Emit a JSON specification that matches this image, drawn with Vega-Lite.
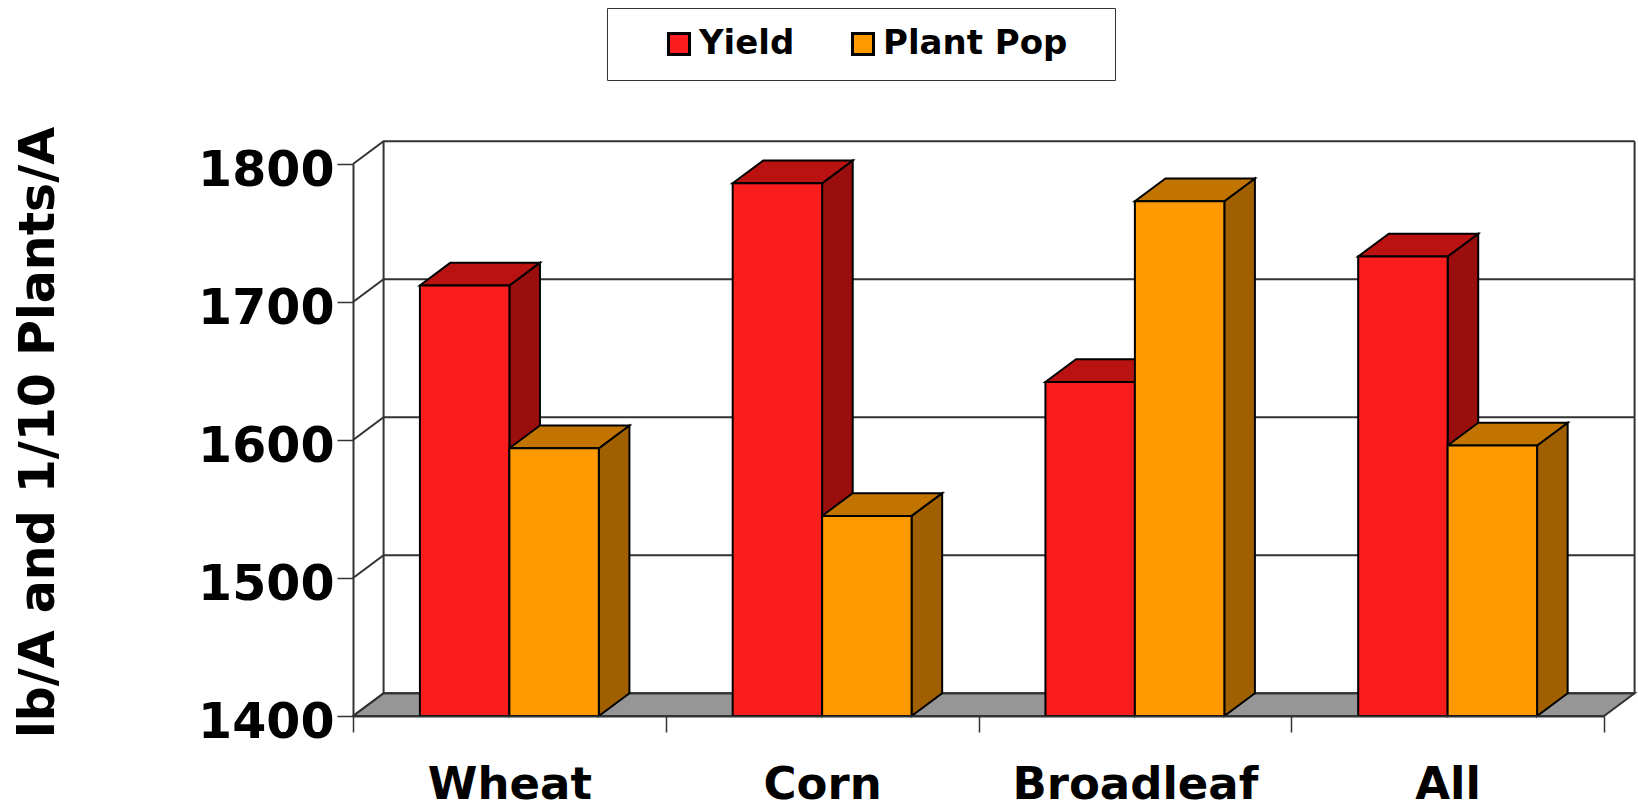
{
"$schema":"https://vega.github.io/schema/vega-lite/v6.json",
"autosize":{"type":"none"},
"width":1251,"height":552,
"padding":{"left":353,"top":164,"right":34,"bottom":86},
"background":"white",
"config":{"view":{"stroke":null},"font":"DejaVu Sans","axis":{"grid":false,"domainColor":"#333333","tickColor":"#333333","domainWidth":2,"tickWidth":1.5,"labelFont":"DejaVu Sans","labelFontWeight":"bold","labelColor":"black","titleFont":"DejaVu Sans","titleFontWeight":"bold","titleColor":"black"}},
"data":{"values":[
{"category":"Wheat","series":"Yield","value":1712},
{"category":"Wheat","series":"Plant Pop","value":1594},
{"category":"Corn","series":"Yield","value":1786},
{"category":"Corn","series":"Plant Pop","value":1545},
{"category":"Broadleaf","series":"Yield","value":1642},
{"category":"Broadleaf","series":"Plant Pop","value":1773},
{"category":"All","series":"Yield","value":1733},
{"category":"All","series":"Plant Pop","value":1596}
]},
"transform":[
{"calculate":"indexof(['Wheat','Corn','Broadleaf','All'],datum.category)+(datum.series==='Yield'?0.214:0.5)","as":"x0"},
{"calculate":"datum.x0+0.286","as":"x1"},
{"calculate":"datum.category+datum.series","as":"bar"}
],
"resolve":{"scale":{"fill":"independent"}},
"layer":[
{"data":{"values":[{"edge":0},{"edge":1}]},
 "transform":[{"calculate":"datum.edge*0.0978","as":"fx0"},{"calculate":"4+datum.edge*0.0978","as":"fx1"},{"calculate":"1400+datum.edge*16.5","as":"fy"}],
 "mark":{"type":"area","orient":"horizontal","fill":"#969696","stroke":"#333333","strokeWidth":2},
 "encoding":{
  "x":{"field":"fx0","type":"quantitative","scale":{"domain":[0,4],"nice":false,"zero":false},
   "axis":{"title":null,"values":[0,0.5,1,1.5,2,2.5,3,3.5,4],"labelOverlap":false,"labelFontSize":45,"labelPadding":46,"labelBaseline":"top","labelLimit":600,"zindex":1,
    "labelExpr":"datum.value%1===0?'':['Wheat','Corn','Broadleaf','All'][floor(datum.value)]",
    "tickSize":{"condition":{"test":"datum.value%1===0","value":16},"value":0}}},
  "x2":{"field":"fx1"},
  "y":{"field":"fy","type":"quantitative","scale":{"domain":[1400,1800],"nice":false,"zero":false},
   "axis":{"title":"lb/A and 1/10 Plants/A","titleFontSize":49,"titleX":-300,"titleY":268,"titleAngle":-90,"titleBaseline":"alphabetic","values":[1400,1500,1600,1700,1800],"format":"d","labelFontSize":49,"labelOffset":6,"tickSize":16,"labelPadding":3,"labelOverlap":false,"zindex":1}}
 }},
{"data":{"values":[{"tick":1400},{"tick":1500},{"tick":1600},{"tick":1700},{"tick":1800}]},
 "transform":[{"calculate":"[0,1,2]","as":"p"},{"flatten":["p"]},
  {"calculate":"datum.p===0?0:(datum.p===1?0.0978:4.0978)","as":"gx"},
  {"calculate":"datum.p===0?datum.tick:datum.tick+16.5","as":"gy"}],
 "mark":{"type":"line","stroke":"#333333","strokeWidth":2},
 "encoding":{
  "x":{"field":"gx","type":"quantitative","scale":{"domain":[0,4],"nice":false,"zero":false}},
  "y":{"field":"gy","type":"quantitative","scale":{"domain":[1400,1800],"nice":false,"zero":false}},
  "detail":{"field":"tick"}
 }},
{"data":{"values":[{"wall":0.0978},{"wall":4.0978}]},
 "transform":[{"calculate":"1416.5","as":"w0"},{"calculate":"1816.5","as":"w1"}],
 "mark":{"type":"rule","stroke":"#333333","strokeWidth":2},
 "encoding":{
  "x":{"field":"wall","type":"quantitative","scale":{"domain":[0,4],"nice":false,"zero":false}},
  "y":{"field":"w0","type":"quantitative","scale":{"domain":[1400,1800],"nice":false,"zero":false}},
  "y2":{"field":"w1"}
 }},
{"transform":[{"calculate":"[0,1]","as":"t"},{"flatten":["t"]},
  {"calculate":"datum.x1+datum.t*0.0978","as":"sx"},
  {"calculate":"datum.value+datum.t*16.5","as":"sy"},
  {"calculate":"1400+datum.t*16.5","as":"sy2"}],
 "mark":{"type":"area","orient":"vertical","stroke":"black","strokeWidth":2},
 "encoding":{
  "x":{"field":"sx","type":"quantitative","scale":{"domain":[0,4],"nice":false,"zero":false}},
  "y":{"field":"sy","type":"quantitative","scale":{"domain":[1400,1800],"nice":false,"zero":false}},
  "y2":{"field":"sy2"},
  "detail":{"field":"bar"},
  "fill":{"field":"series","type":"nominal","legend":null,"scale":{"domain":["Yield","Plant Pop"],"range":["#9A0F0E","#A06000"]}}
 }},
{"transform":[{"calculate":"[0,1]","as":"t"},{"flatten":["t"]},
  {"calculate":"datum.x0+datum.t*0.0978","as":"tx"},
  {"calculate":"datum.x1+datum.t*0.0978","as":"tx2"},
  {"calculate":"datum.value+datum.t*16.5","as":"ty"}],
 "mark":{"type":"area","orient":"horizontal","stroke":"black","strokeWidth":2},
 "encoding":{
  "x":{"field":"tx","type":"quantitative","scale":{"domain":[0,4],"nice":false,"zero":false}},
  "x2":{"field":"tx2"},
  "y":{"field":"ty","type":"quantitative","scale":{"domain":[1400,1800],"nice":false,"zero":false}},
  "detail":{"field":"bar"},
  "fill":{"field":"series","type":"nominal","legend":null,"scale":{"domain":["Yield","Plant Pop"],"range":["#B91210","#C27400"]}}
 }},
{"transform":[{"calculate":"1400","as":"base"}],
 "mark":{"type":"rect","stroke":"black","strokeWidth":2},
 "encoding":{
  "x":{"field":"x0","type":"quantitative","scale":{"domain":[0,4],"nice":false,"zero":false}},
  "x2":{"field":"x1"},
  "y":{"field":"value","type":"quantitative","scale":{"domain":[1400,1800],"nice":false,"zero":false}},
  "y2":{"field":"base"},
  "fill":{"field":"series","type":"nominal","scale":{"domain":["Yield","Plant Pop"],"range":["#F91D1D","#FF9900"]},
   "legend":{"title":"\u00a0","titleOrient":"right","titlePadding":29,"titleFontSize":10,"orient":"none","legendX":254,"legendY":-156,"direction":"horizontal","columns":2,"columnPadding":15,"padding":19,"fillColor":"white","strokeColor":"#333333","symbolType":"square","symbolSize":440,"symbolStrokeColor":"black","symbolStrokeWidth":3,"symbolOffset":36,"labelFont":"DejaVu Sans","labelFontWeight":"bold","labelFontSize":34,"labelColor":"black","labelOffset":3,"labelLimit":400}}
 }}
]
}
